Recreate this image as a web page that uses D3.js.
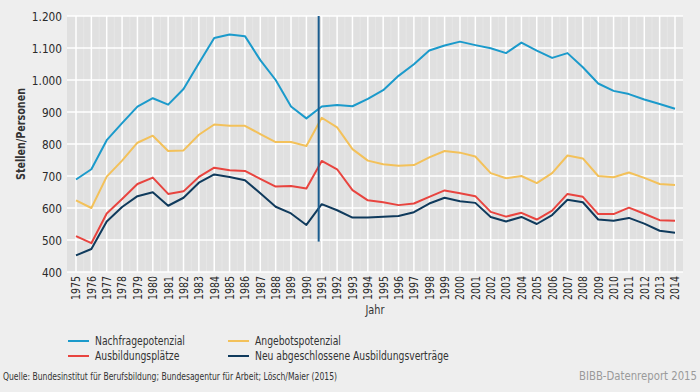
<!DOCTYPE html>
<html><head><meta charset="utf-8">
<script src="https://cdn.jsdelivr.net/npm/d3@7/dist/d3.min.js"></script>
<style>
html,body{margin:0;padding:0;background:#eeeeee;}
svg{display:block;font-family:"Liberation Sans Narrow","DejaVu Sans Condensed","Roboto Condensed",sans-serif;}
</style></head>
<body><svg id="c" width="700" height="392"></svg>
<script>
const years = [1975,1976,1977,1978,1979,1980,1981,1982,1983,1984,1985,1986,1987,1988,1989,1990,1991,1992,1993,1994,1995,1996,1997,1998,1999,2000,2001,2002,2003,2004,2005,2006,2007,2008,2009,2010,2011,2012,2013,2014];
const nachfrage = [689,721,812,865,917,943,923,972,1052,1131,1142,1137,1062,1000,917,880,917,922,918,941,968,1013,1049,1092,1108,1120,1109,1099,1084,1117,1092,1069,1084,1040,989,966,956,939,925,910];
const angebot = [624,600,698,748,804,826,778,780,829,861,857,857,831,806,806,794,882,852,784,748,737,732,734,758,778,773,761,709,693,700,678,709,764,755,700,696,711,694,675,672];
const plaetze = [512,490,583,628,675,695,644,652,697,726,718,716,691,667,669,661,747,721,656,624,618,609,614,635,655,646,637,588,573,585,564,592,644,635,581,581,601,582,562,560];
const vertraege = [452,472,558,603,637,649,607,632,679,705,697,687,646,604,583,547,612,593,570,570,573,575,587,614,632,621,616,572,558,572,550,578,626,618,564,560,569,551,529,523];
const yTicks = [400,500,600,700,800,900,1000,1100,1200];
const seriesNames = ["Nachfragepotenzial","Angebotspotenzial","Ausbildungsplätze","Neu abgeschlossene Ausbildungsverträge"];
const seriesColors = ["#1b9acb","#f3c15a","#e8443f","#0f3a5c"];
const seriesData = [nachfrage, angebot, plaetze, vertraege];
const breakYear = 1991;

const svg = d3.select("#c");
const plot = {l:67, r:683, t:16, b:272};
const x = d3.scalePoint().domain(years).range([76, 675]);
const y = d3.scaleLinear().domain([400,1200]).range([plot.b, plot.t]);
const fmt = v => d3.format(",")(v).replace(/,/g,".");

function condense(sel, f){
  sel.each(function(){
    const w = this.getComputedTextLength();
    d3.select(this).attr("textLength", w*f).attr("lengthAdjust","spacingAndGlyphs");
  });
}

svg.append("rect").attr("x",plot.l).attr("y",plot.t).attr("width",plot.r-plot.l).attr("height",plot.b-plot.t).attr("fill","#e0e0e0");

const step = x.step();
svg.append("g").selectAll("line").data(years.slice(0,-1)).join("line")
  .attr("x1",d=>x(d)+step/2).attr("x2",d=>x(d)+step/2)
  .attr("y1",plot.t).attr("y2",plot.b).attr("stroke","#e6e6e6").attr("stroke-width",1);
svg.append("g").selectAll("line").data(yTicks).join("line")
  .attr("x1",plot.l).attr("x2",plot.r).attr("y1",d=>y(d)).attr("y2",d=>y(d))
  .attr("stroke","#ffffff").attr("stroke-width",1.5);
svg.append("g").selectAll("line").data(years).join("line")
  .attr("x1",d=>x(d)).attr("x2",d=>x(d)).attr("y1",plot.t).attr("y2",plot.b)
  .attr("stroke","#ffffff").attr("stroke-width",1.5);

svg.append("g").selectAll("text").data(yTicks).join("text")
  .attr("x",62).attr("y",d=>y(d)).attr("dy","0.35em").attr("text-anchor","end")
  .attr("font-size",13).attr("fill","#2a2a2a").text(fmt).call(condense,0.9);
svg.append("g").selectAll("text").data(years).join("text")
  .attr("transform",d=>`translate(${x(d)},276) rotate(-90)`)
  .attr("dy","0.35em").attr("text-anchor","end")
  .attr("font-size",12.5).attr("fill","#2a2a2a").text(d=>d).attr("textLength",24).attr("lengthAdjust","spacingAndGlyphs");

svg.append("text").attr("transform","translate(25,134) rotate(-90)")
  .attr("text-anchor","middle").attr("font-size",11.5).attr("font-weight","bold").attr("fill","#333")
  .text("Stellen/Personen").attr("textLength",92).attr("lengthAdjust","spacingAndGlyphs");
svg.append("text").attr("x",(plot.l+plot.r)/2).attr("y",314).attr("text-anchor","middle")
  .attr("font-size",12.5).attr("fill","#333").text("Jahr").attr("textLength",19).attr("lengthAdjust","spacingAndGlyphs");

const line = d3.line().x((d,i)=>x(years[i])).y(d=>y(d));
seriesData.forEach((s,k)=>{
  svg.append("path").datum(s).attr("d",line).attr("fill","none")
    .attr("stroke",seriesColors[k]).attr("stroke-width",2).attr("stroke-linejoin","round");
});

const bx = x(breakYear-1) + 0.8*(x(breakYear)-x(breakYear-1));
svg.append("line").attr("x1",bx).attr("x2",bx).attr("y1",y(1200)).attr("y2",y(495))
  .attr("stroke","#1a5c8e").attr("stroke-width",2);

const legPos = [[68,341],[228,341],[68,356],[228,356]];
seriesNames.forEach((n,k)=>{
  const [lx,ly] = legPos[k];
  svg.append("line").attr("x1",lx).attr("x2",lx+21).attr("y1",ly).attr("y2",ly)
    .attr("stroke",seriesColors[k]).attr("stroke-width",2);
  svg.append("text").attr("x",lx+27).attr("y",ly).attr("dy","0.35em")
    .attr("font-size",12.5).attr("fill","#333").text(n).call(condense,0.82);
});

svg.append("text").attr("x",3).attr("y",380).attr("font-size",10.5).attr("fill","#333")
  .text("Quelle: Bundesinstitut für Berufsbildung; Bundesagentur für Arbeit; Lösch/Maier (2015)")
  .attr("textLength",334).attr("lengthAdjust","spacingAndGlyphs");
svg.append("text").attr("x",697).attr("y",380).attr("text-anchor","end").attr("font-size",11.5).attr("fill","#9a9a9a")
  .text("BIBB-Datenreport 2015").attr("textLength",118).attr("lengthAdjust","spacingAndGlyphs");
</script></body></html>
